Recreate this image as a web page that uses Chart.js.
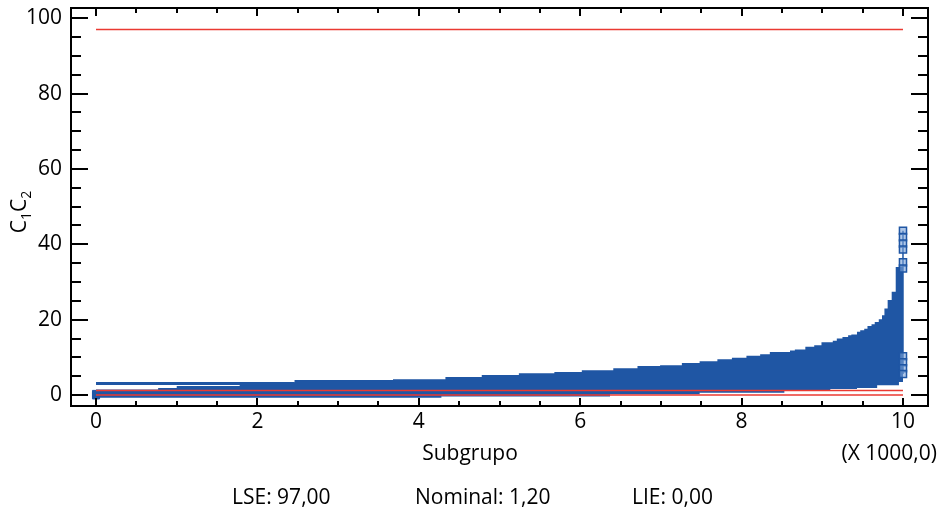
<!DOCTYPE html>
<html>
<head>
<meta charset="utf-8">
<script src="https://cdn.jsdelivr.net/npm/chart.js@4.4.1/dist/chart.umd.min.js"></script>
<style>
  html, body { margin: 0; padding: 0; background: #fff; }
  #wrap { width: 943px; height: 520px; position: relative; }
</style>
</head>
<body>
<div id="wrap"><canvas id="grafico"></canvas></div>
<script>
// Datos (subgrupos en unidades, no en miles)
const subgrupos = [0, 770, 1000, 1780, 2460, 3680, 4280, 4330, 4780, 5240, 5680, 6020, 6370, 6410,
  6710, 6990, 7260, 7480, 7700, 7880, 8060, 8230, 8350, 8530, 8600, 8660, 8790, 8900, 8990, 9100,
  9130, 9180, 9250, 9320, 9360, 9430, 9470, 9520, 9560, 9610, 9650, 9680, 9700, 9740, 9770, 9810,
  9860, 9910, 9950, 9960, 10000];
const superior = [1.5, 1.5, 1.85, 2.4, 3.4, 4.0, 4.2, 4.2, 4.8, 5.3, 5.8, 6.1, 6.6, 6.6,
  7.1, 7.7, 7.9, 8.5, 9.0, 9.5, 9.9, 10.4, 10.8, 11.4, 11.4, 11.8, 12.1, 12.8, 13.2, 14.0,
  14.0, 14.4, 15.0, 15.4, 15.9, 16.1, 16.8, 17.2, 17.6, 18.3, 18.8, 19.4, 19.4, 20.1, 21.2, 23.0,
  25.2, 27.4, 34.0, 34.0, 34.0];
const inferior = [-1.1, -0.7, -0.7, -0.7, -0.7, -0.7, -0.7, -0.4, -0.4, -0.4, -0.4, -0.4, -0.4, 0.2,
  0.2, 0.2, 0.2, 0.2, 0.6, 0.6, 0.6, 0.6, 0.6, 0.6, 1.1, 1.1, 1.1, 1.1, 1.1, 1.1,
  1.6, 1.6, 1.6, 1.6, 1.6, 1.6, 1.9, 1.9, 1.9, 1.9, 1.9, 1.9, 2.6, 2.6, 2.6, 2.6,
  2.6, 2.6, 2.6, 3.5, 3.5];

// línea suelta arriba de la banda al principio
const lineaFinaX = [0, 2460];
const lineaFinaY = [3.1, 3.1];

// puntos marcados en los extremos
const puntosFinales = [43.6, 41.9, 40.2, 38.6, 35.2, 33.6, 10.3, 8.7, 7.1, 5.6];
const puntosInicio = [-0.1, 0.3];

// límites de especificación
const nombresLimites = ['LSE', 'Nominal', 'LIE'];
const valoresLimites = [97, 1.2, 0];

// marcas de los ejes
const ticksX = [0, 2000, 4000, 6000, 8000, 10000];
const ticksY = [0, 20, 40, 60, 80, 100];

const azul = '#1f56a4';
const rojo = '#ea3a32';
const fuente = 'Open Sans';

Chart.defaults.font.family = fuente;
Chart.defaults.font.size = 21;
Chart.defaults.color = '#000';

function fmt(v) {
    return v.toFixed(2).replace('.', ',');
}

// Líneas rojas de los límites
const dsLimites = valoresLimites.map((v, i) => ({
    label: nombresLimites[i],
    data: [{x: 0, y: v}, {x: 10000, y: v}],
    borderColor: rojo,
    borderWidth: 1.6,
    pointRadius: 0,
    fill: false
}));

const datasets = [
    ...dsLimites,
    {
        label: 'fina',
        data: lineaFinaX.map((x, i) => ({x: x, y: lineaFinaY[i]})),
        borderColor: azul,
        borderWidth: 3,
        pointRadius: 0,
        fill: false
    },
    {
        label: 'finales',
        data: puntosFinales.map(v => ({x: 10000, y: v})),
        borderColor: azul,
        borderWidth: 1.5,
        backgroundColor: 'rgba(120,160,215,0.6)',
        pointStyle: 'rect',
        pointRadius: 5,
        pointBorderWidth: 1.5,
        fill: false
    },
    {
        label: 'inicio',
        data: puntosInicio.map(v => ({x: 0, y: v})),
        borderColor: azul,
        backgroundColor: azul,
        pointStyle: 'rect',
        pointRadius: 5,
        showLine: false,
        fill: false
    },
    {
        label: 'superior',
        data: subgrupos.map((x, i) => ({x: x, y: superior[i]})),
        stepped: 'after',
        borderWidth: 0,
        borderColor: azul,
        backgroundColor: azul,
        pointRadius: 0,
        fill: {target: 7}
    },
    {
        label: 'inferior',
        data: subgrupos.map((x, i) => ({x: x, y: inferior[i]})),
        stepped: 'after',
        borderWidth: 0,
        borderColor: azul,
        pointRadius: 0,
        fill: false
    }
];

// Marco, marcas hacia dentro y textos
const marco = {
    id: 'marco',
    afterDraw(chart) {
        const {ctx, chartArea: a, scales: {x, y}} = chart;
        ctx.save();
        ctx.strokeStyle = '#000';
        ctx.lineWidth = 2;
        ctx.strokeRect(a.left, a.top, a.right - a.left, a.bottom - a.top);

        function raya(x1, y1, x2, y2) {
            ctx.beginPath();
            ctx.moveTo(x1, y1);
            ctx.lineTo(x2, y2);
            ctx.stroke();
        }
        for (let v = 0; v <= 100; v += 5) {
            const py = Math.round(y.getPixelForValue(v));
            const largo = v % 20 === 0 ? 17 : 10;
            raya(a.left, py, a.left + largo, py);
            raya(a.right, py, a.right - largo, py);
        }
        for (let v = 0; v <= 10000; v += 500) {
            const px = Math.round(x.getPixelForValue(v));
            const largo = v % 2000 === 0 ? 8 : 5;
            raya(px, a.bottom, px, a.bottom - largo);
            raya(px, a.top, px, a.top + largo);
        }

        ctx.fillStyle = '#000';
        ctx.textBaseline = 'alphabetic';
        ctx.font = '21px "' + fuente + '"';
        ctx.textAlign = 'center';
        ctx.fillText('Subgrupo', 470, 460);
        ctx.textAlign = 'right';
        ctx.fillText('(X 1000,0)', 937, 460);

        // pie con los límites
        ctx.textAlign = 'left';
        const posX = [232, 415, 632];
        nombresLimites.forEach((n, i) => {
            ctx.fillText(n + ': ' + fmt(valoresLimites[i]), posX[i], 504);
        });

        // título del eje Y: C1C2 con subíndices
        ctx.translate(26, 212);
        ctx.rotate(-Math.PI / 2);
        const partes = [['C', false], ['1', true], ['C', false], ['2', true]];
        const fGrande = '21px "' + fuente + '"';
        const fChica = '14px "' + fuente + '"';
        let ancho = 0;
        partes.forEach(p => {
            ctx.font = p[1] ? fChica : fGrande;
            ancho += ctx.measureText(p[0]).width;
        });
        let cx = -ancho / 2;
        partes.forEach(p => {
            ctx.font = p[1] ? fChica : fGrande;
            ctx.fillText(p[0], cx, p[1] ? 5 : 0);
            cx += ctx.measureText(p[0]).width;
        });
        ctx.restore();
    }
};

new Chart(document.getElementById('grafico'), {
    type: 'line',
    data: {datasets: datasets},
    options: {
        responsive: true,
        maintainAspectRatio: false,
        animation: false,
        layout: {padding: {left: 0, right: 15, top: 8, bottom: 0}},
        plugins: {
            legend: {display: false},
            tooltip: {enabled: false}
        },
        scales: {
            x: {
                type: 'linear',
                min: -310,
                max: 10310,
                grid: {display: false, drawTicks: false},
                border: {display: false},
                ticks: {
                    maxRotation: 0,
                    padding: 3,
                    callback: v => v / 1000
                },
                afterBuildTicks: s => { s.ticks = ticksX.map(v => ({value: v})); },
                afterFit: s => {
                    s.height = 114;
                    s.paddingLeft = 0;
                    s.paddingRight = 0;
                }
            },
            y: {
                type: 'linear',
                min: -2.9,
                max: 102.7,
                grid: {display: false, drawTicks: false},
                border: {display: false},
                ticks: {padding: 9},
                afterBuildTicks: s => { s.ticks = ticksY.map(v => ({value: v})); },
                afterFit: s => {
                    s.width = 71;
                    s.paddingTop = 0;
                    s.paddingBottom = 0;
                }
            }
        }
    },
    plugins: [marco]
});
</script>
</body>
</html>
